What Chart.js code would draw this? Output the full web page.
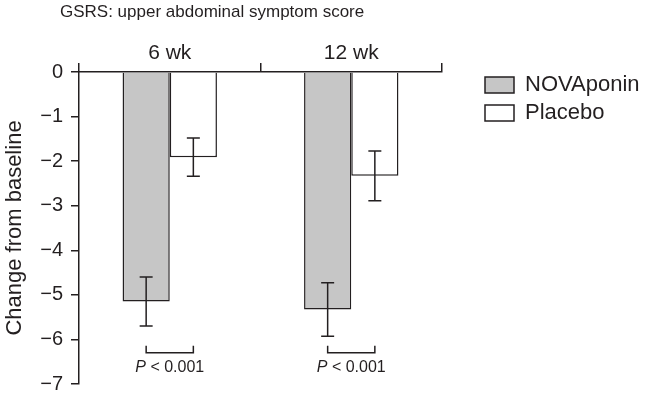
<!DOCTYPE html>
<html><head><meta charset="utf-8">
<script src="https://cdn.jsdelivr.net/npm/chart.js@4.4.1/dist/chart.umd.min.js"></script>
<style>html,body{margin:0;padding:0;background:#fff;}#wrap{width:646px;height:394px;position:relative;}</style>
</head><body><div id="wrap"><canvas id="c"></canvas></div>
<script>
const categories = ['6 wk', '12 wk'];
const seriesNames = ['NOVAponin', 'Placebo'];
const novaponinMean = [-5.15, -5.33];
const novaponinErr = [0.55, 0.60];
const placeboMean = [-1.91, -2.33];
const placeboErr = [0.43, 0.56];
const yTicks = [0, -1, -2, -3, -4, -5, -6, -7];
const pLabels = ['P < 0.001', 'P < 0.001'];
const chartTitle = 'GSRS: upper abdominal symptom score';
const yTitle = 'Change from baseline';

const INK = '#231f20';
const FONT = "'Liberation Sans', Arial, Helvetica, sans-serif";

const annot = {
  id: 'annot',
  afterDatasetsDraw(chart, args, opts) {
    const ctx = chart.ctx, ys = chart.scales.y;
    const errs = [novaponinErr, placeboErr];
    ctx.save();
    ctx.strokeStyle = INK; ctx.lineWidth = 1.5;
    chart.data.datasets.forEach((ds, i) => {
      const meta = chart.getDatasetMeta(i);
      meta.data.forEach((bar, j) => {
        const v = ds.data[j], e = errs[i][j];
        const x = bar.x, y1 = ys.getPixelForValue(v + e), y2 = ys.getPixelForValue(v - e);
        ctx.beginPath();
        ctx.moveTo(x, y1); ctx.lineTo(x, y2);
        ctx.moveTo(x - 6.5, y1); ctx.lineTo(x + 6.5, y1);
        ctx.moveTo(x - 6.5, y2); ctx.lineTo(x + 6.5, y2);
        ctx.stroke();
      });
    });
    const m0 = chart.getDatasetMeta(0), m1 = chart.getDatasetMeta(1);
    categories.forEach((c, j) => {
      const xa = m0.data[j].x, xb = m1.data[j].x;
      const yt = ys.getPixelForValue(opts.bracketTop), yb = ys.getPixelForValue(opts.bracketBottom);
      ctx.beginPath();
      ctx.moveTo(xa, yt); ctx.lineTo(xa, yb); ctx.lineTo(xb, yb); ctx.lineTo(xb, yt);
      ctx.stroke();
      const label = pLabels[j];
      const k = label.indexOf(' ');
      const p1 = label.slice(0, k), p2 = label.slice(k);
      const fItal = 'italic 16px ' + FONT, fNorm = '16px ' + FONT;
      ctx.font = fItal; const w1 = ctx.measureText(p1).width;
      ctx.font = fNorm; const w2 = ctx.measureText(p2).width;
      const cx = (xa + xb) / 2, ty = ys.getPixelForValue(opts.textAt);
      let x0 = cx - (w1 + w2) / 2;
      ctx.fillStyle = INK; ctx.textBaseline = 'middle'; ctx.textAlign = 'left';
      ctx.font = fItal; ctx.fillText(p1, x0, ty);
      ctx.font = fNorm; ctx.fillText(p2, x0 + w1, ty);
    });
    ctx.restore();
  },
  afterDraw(chart) {
    const ctx = chart.ctx;
    ctx.save();
    ctx.fillStyle = INK; ctx.font = '17px ' + FONT;
    ctx.textAlign = 'left'; ctx.textBaseline = 'alphabetic';
    ctx.fillText(chartTitle, 60, 17);
    ctx.restore();
  }
};

new Chart(document.getElementById('c'), {
  type: 'bar',
  data: {
    labels: categories,
    datasets: [
      { label: seriesNames[0], data: novaponinMean, backgroundColor: '#c6c6c6', borderColor: INK, borderWidth: 1.5, categoryPercentage: 0.52, barPercentage: 1 },
      { label: seriesNames[1], data: placeboMean, backgroundColor: '#ffffff', borderColor: INK, borderWidth: 1.5, categoryPercentage: 0.52, barPercentage: 1 }
    ]
  },
  plugins: [annot],
  options: {
    responsive: true, maintainAspectRatio: false, animation: false,
    layout: { padding: { left: 0, right: 0, top: 0, bottom: 0 } },
    scales: {
      x: {
        position: 'top',
        grid: { display: true, drawOnChartArea: false, drawTicks: true, tickLength: 9, color: INK, lineWidth: 1.5, offset: true },
        border: { display: true, color: INK, width: 1.5 },
        ticks: { color: INK, padding: -1, font: { family: FONT, size: 21, lineHeight: 1 } },
        afterFit: s => { s.height = 72; }
      },
      y: {
        position: 'left', min: -7, max: 0,
        afterBuildTicks: s => { s.ticks = yTicks.map(v => ({ value: v })); },
        grid: { display: true, drawOnChartArea: false, drawTicks: true, tickLength: 8, color: INK, lineWidth: 1.5 },
        border: { display: true, color: INK, width: 1.5 },
        ticks: { color: INK, padding: 8, font: { family: FONT, size: 20, lineHeight: 1 },
          callback: v => v === 0 ? '0' : '\u2212' + Math.abs(v) },
        title: { display: true, text: yTitle, color: INK, font: { family: FONT, size: 22, lineHeight: 1.2 }, padding: { top: 2, bottom: 0 } },
        afterFit: s => { s.width = 79; s.paddingBottom = 10; s.paddingTop = 0; }
      },
      yR: {
        position: 'right', min: 0, max: 1, display: true,
        grid: { display: false }, border: { display: false }, ticks: { display: false },
        afterFit: s => { s.width = 37; }
      }
    },
    plugins: {
      title: { display: false },
      tooltip: { enabled: false },
      annot: { bracketTop: -6.14, bracketBottom: -6.3, textAt: -6.63 },
      legend: {
        position: 'right', align: 'start', fullSize: true, maxWidth: 167,
        title: { display: true, text: ' ', font: { size: 10, lineHeight: 1.2 }, padding: { top: 56, bottom: 0 } },
        labels: { boxWidth: 29, boxHeight: 16, padding: 6, color: INK, font: { family: FONT, size: 22 } }
      }
    }
  }
});
</script></body></html>
